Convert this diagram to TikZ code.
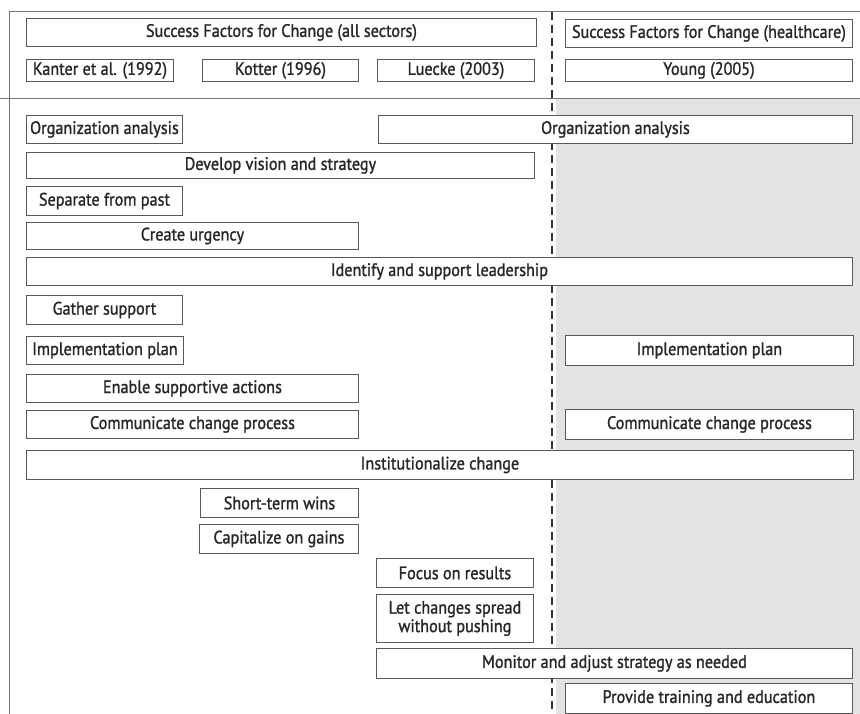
\documentclass[tikz,border=0pt]{standalone}
\usepackage{xcolor}
\usepackage{fontspec}
\setmainfont{PT Sans}[FakeStretch=0.9, FakeBold=1.2]
\usepackage{tikz}
\usetikzlibrary{positioning, backgrounds}

\begin{document}
\begin{tikzpicture}[x=1pt, y=-1pt]
\tikzstyle{factor} = [rectangle, draw=black!65, line width=0.9pt, fill=white, text=black!85, inner sep=0pt, minimum height=28pt, text centered, anchor=north west, font=\fontsize{18}{18.5}\selectfont]
\tikzstyle{frame} = [draw=black!55, line width=0.9pt]
\tikzstyle{split} = [draw=black!80, line width=2.2pt, dash pattern=on 8pt off 5pt]

\useasboundingbox (0,0) rectangle (860,714);

% header row
\node (allsec) [factor, minimum width=510pt] at (26,18) {Success Factors for Change (all sectors)};
\node (kanter) [factor, minimum width=147pt, minimum height=22pt] at (26,59) {Kanter et al. (1992)};
\node (kotter) [factor, minimum width=156pt, minimum height=22pt] at (202,59) {Kotter (1996)};
\node (luecke) [factor, minimum width=157pt, minimum height=22pt] at (377,59) {Luecke (2003)};
\node (health) [factor, minimum width=287pt] at (565,19) {Success Factors for Change (healthcare)};
\node (young) [factor, minimum width=287pt, minimum height=22pt] at (565,59) {Young (2005)};

% factors
\node (orgl) [factor, minimum width=156pt] at (26,115) {Organization analysis};
\node (orgr) [factor, minimum width=474pt] at (378,115) {Organization analysis};
\node (vision) [factor, minimum width=508pt, minimum height=26pt] at (26,152) {Develop vision and strategy};
\node (separate) [factor, minimum width=156pt, minimum height=29pt] at (26,186) {Separate from past};
\node (urgency) [factor, minimum width=332pt, minimum height=27pt] at (26,222) {Create urgency};
\node (leader) [factor, minimum width=826pt] at (26,257) {Identify and support leadership};
\node (gather) [factor, minimum width=156pt, minimum height=29pt] at (26,295) {Gather support};
\node (impll) [factor, minimum width=157pt] at (26,336) {Implementation plan};
\node (implr) [factor, minimum width=288pt, minimum height=30pt] at (565,335) {Implementation plan};
\node (enable) [factor, minimum width=332pt] at (26,374) {Enable supportive actions};
\node (comml) [factor, minimum width=332pt] at (26,410) {Communicate change process};
\node (commr) [factor, minimum width=288pt, minimum height=30pt] at (565,409) {Communicate change process};
\node (instit) [factor, minimum width=827pt, minimum height=29pt] at (26,450) {Institutionalize change};
\node (wins) [factor, minimum width=158pt, minimum height=29pt] at (200,488) {Short-term wins};
\node (gains) [factor, minimum width=159pt, minimum height=29pt] at (199,524) {Capitalize on gains};
\node (focus) [factor, minimum width=157pt, minimum height=29pt] at (376,558) {Focus on results};
\node (spread) [factor, minimum width=157pt, minimum height=48pt, align=center] at (376,594) {Let changes spread\\without pushing};
\node (monitor) [factor, minimum width=476pt, minimum height=30pt] at (376,648) {Monitor and adjust strategy as needed};
\node (training) [factor, minimum width=287pt, minimum height=30pt] at (565,683) {Provide training and education};

\coordinate (cornerbl) at (9,714);
\coordinate (cornertl) at (9,11);
\coordinate (cornertr) at (860,11);
\coordinate (ruleleft) at (0,98);
\coordinate (ruleright) at (860,98);
\coordinate (splittop) at (552,12);
\coordinate (splitbot) at (552,714);

\begin{scope}[on background layer]
\fill [black!11] (556,98) rectangle (860,714);
\draw [frame] (cornerbl) -- (cornertl) -- (cornertr);
\draw [frame] (ruleleft) -- (ruleright);
\draw [split] (splittop) -- (splitbot);
\end{scope}

\end{tikzpicture}
\end{document}
